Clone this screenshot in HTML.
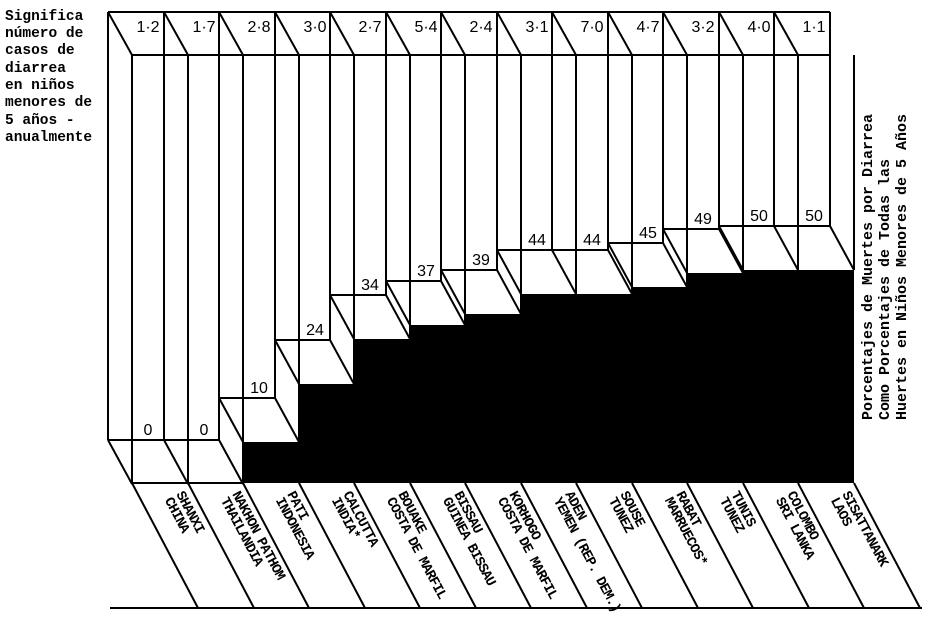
<!DOCTYPE html>
<html><head><meta charset="utf-8"><style>
html,body{margin:0;padding:0;background:#fff;}
svg{display:block;}
.m{font-family:"Liberation Mono",monospace;font-weight:bold;}
.s{font-family:"Liberation Sans",sans-serif;}
</style></head><body>
<svg width="930" height="617" viewBox="0 0 930 617" xmlns="http://www.w3.org/2000/svg">
<rect width="930" height="617" fill="#fff"/>
<g class="m" font-size="14.5" fill="#000">
<text x="5" y="20">Significa</text>
<text x="5" y="37">número de</text>
<text x="5" y="54">casos de</text>
<text x="5" y="72">diarrea</text>
<text x="5" y="89">en niños</text>
<text x="5" y="106">menores de</text>
<text x="5" y="124">5 años -</text>
<text x="5" y="141">anualmente</text>
</g>
<path d="M243,483 V442 H299 V384 H354 V339 H410 V325 H465 V314 H521 V294 H632 V287 H687 V273 H743 V270 H854 V483 Z" fill="#000"/>
<g stroke="#000" stroke-width="2" fill="none">
<path d="M108,12 H830 M132,55 H830"/>
<path d="M108,12 V440 M164,12 V440 M219,12 V440 M275,12 V398 M330,12 V340 M386,12 V295 M441,12 V281 M497,12 V270 M552,12 V250 M608,12 V250 M663,12 V243 M719,12 V229 M774,12 V226 M830,12 V226"/>
<path d="M132,55 V484 M188,55 V484 M243,55 V484 M299,55 V442 M354,55 V384 M410,55 V339 M465,55 V325 M521,55 V314 M576,55 V294 M632,55 V294 M687,55 V287 M743,55 V273 M798,55 V270 M854,55 V270"/>
<path d="M108,440 H219 M219,398 H275 M275,340 H330 M330,295 H386 M386,281 H441 M441,270 H497 M497,250 H608 M608,243 H663 M663,229 H719 M719,226 H830 M132,483 H243"/>
<path d="M108,12 L132,55 M164,12 L188,55 M219,12 L243,55 M275,12 L299,55 M330,12 L354,55 M386,12 L410,55 M441,12 L465,55 M497,12 L521,55 M552,12 L576,55 M608,12 L632,55 M663,12 L687,55 M719,12 L743,55 M774,12 L798,55"/>
<path d="M108,440 L132,484 M164,440 L188,484 M219,440 L243,484 M219,398 L243,442 M275,398 L299,442 M275,340 L299,384 M330,340 L354,384 M330,295 L354,339 M386,295 L410,339 M386,281 L410,325 M441,281 L465,325 M441,270 L465,314 M497,270 L521,314 M497,250 L521,294 M552,250 L576,294 M608,250 L632,294 M608,243 L632,287 M663,243 L687,287 M663,229 L687,273 M719,229 L743,273 M719,226 L743,270 M774,226 L798,270 M830,226 L854,270"/>
<path d="M132,483 L198,608 M188,483 L254,608 M243,483 L309,608 M299,483 L365,608 M354,483 L420,608 M410,483 L476,608 M465,483 L531,608 M521,483 L587,608 M576,483 L642,608 M632,483 L698,608 M687,483 L753,608 M743,483 L809,608 M798,483 L864,608 M854,483 L920,608"/>
<path d="M110,608 H922"/>
</g>
<g class="s" font-size="16" text-anchor="middle" fill="#000">
<text x="148" y="32">1·2</text><text x="204" y="32">1·7</text><text x="259" y="32">2·8</text><text x="315" y="32">3·0</text><text x="370" y="32">2·7</text><text x="426" y="32">5·4</text><text x="481" y="32">2·4</text><text x="537" y="32">3·1</text><text x="592" y="32">7·0</text><text x="648" y="32">4·7</text><text x="703" y="32">3·2</text><text x="759" y="32">4·0</text><text x="814" y="32">1·1</text>
<text x="148" y="435">0</text><text x="204" y="435">0</text><text x="259" y="393">10</text><text x="315" y="335">24</text><text x="370" y="290">34</text><text x="426" y="276">37</text><text x="481" y="265">39</text><text x="537" y="245">44</text><text x="592" y="245">44</text><text x="648" y="238">45</text><text x="703" y="224">49</text><text x="759" y="221">50</text><text x="814" y="221">50</text>
</g>
<g class="m" font-size="14" letter-spacing="-0.9" fill="#000">
<g transform="translate(176,494) rotate(62)"><text>SHANXI</text><text x="0" y="13">CHINA</text></g>
<g transform="translate(232,494) rotate(62)"><text>NAKHON PATHOM</text><text x="0" y="13">THAILANDIA</text></g>
<g transform="translate(287,494) rotate(62)"><text>PATI</text><text x="0" y="13">INDONESIA</text></g>
<g transform="translate(343,494) rotate(62)"><text>CALCUTTA</text><text x="0" y="13">INDIA*</text></g>
<g transform="translate(398,494) rotate(62)"><text>BOUAKE</text><text x="0" y="13">COSTA DE MARFIL</text></g>
<g transform="translate(454,494) rotate(62)"><text>BISSAU</text><text x="0" y="13">GUINEA BISSAU</text></g>
<g transform="translate(509,494) rotate(62)"><text>KORHOGO</text><text x="0" y="13">COSTA DE MARFIL</text></g>
<g transform="translate(565,494) rotate(62)"><text>ADEN</text><text x="0" y="13">YEMEN (REP. DEM.)</text></g>
<g transform="translate(620,494) rotate(62)"><text>SOUSE</text><text x="0" y="13">TUNEZ</text></g>
<g transform="translate(676,494) rotate(62)"><text>RABAT</text><text x="0" y="13">MARRUECOS*</text></g>
<g transform="translate(731,494) rotate(62)"><text>TUNIS</text><text x="0" y="13">TUNEZ</text></g>
<g transform="translate(787,494) rotate(62)"><text>COLOMBO</text><text x="0" y="13">SRI LANKA</text></g>
<g transform="translate(842,494) rotate(62)"><text>SISATTANARK</text><text x="0" y="13">LAOS</text></g>
</g>
<g class="m" font-size="15" fill="#000" transform="translate(872,420) rotate(-90)">
<text x="0" y="0">Porcentajes de Muertes por Diarrea</text>
<text x="0" y="17">Como Porcentajes de Todas las</text>
<text x="0" y="34">Huertes en Niños Menores de 5 Años</text>
</g>
</svg>
</body></html>
